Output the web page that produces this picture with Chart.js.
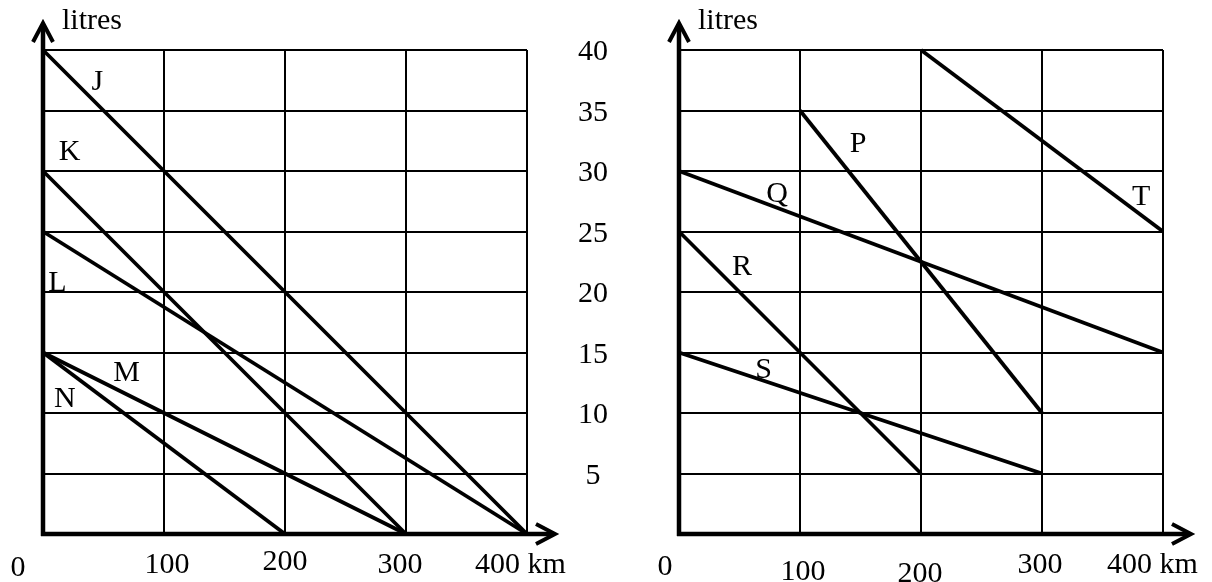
<!DOCTYPE html>
<html>
<head>
<meta charset="utf-8">
<script src="https://cdn.jsdelivr.net/npm/chart.js@4.4.1/dist/chart.umd.min.js"></script>
<style>
  html, body { margin: 0; padding: 0; background: #fff; }
  #wrap { position: relative; width: 1212px; height: 582px; overflow: hidden; }
  canvas { position: absolute; top: 0; }
  #leftChart { left: 0; }
  #rightChart { left: 620px; }
</style>
</head>
<body>
<div id="wrap">
  <canvas id="leftChart" width="620" height="582"></canvas>
  <canvas id="rightChart" width="592" height="582"></canvas>
</div>
<script>
//////////////////
// data

var kmTicks = [0, 100, 200, 300, 400];
var kmTickLabels = ["0", "100", "200", "300", "400 km"];
var litreTicks = [5, 10, 15, 20, 25, 30, 35, 40];
var axisTitle = "litres";

// left graph : each line goes from (fromKm, fromLitres) to (toKm, toLitres)
var leftNames = ["J", "K", "L", "M", "N"];
var leftFromKm = [0, 0, 0, 0, 0];
var leftFromLitres = [40, 30, 25, 15, 15];
var leftToKm = [400, 300, 400, 300, 200];
var leftToLitres = [0, 0, 0, 0, 0];

// right graph
var rightNames = ["P", "Q", "R", "S", "T"];
var rightFromKm = [100, 0, 0, 0, 200];
var rightFromLitres = [35, 30, 25, 15, 40];
var rightToKm = [300, 400, 200, 300, 400];
var rightToLitres = [10, 15, 5, 5, 25];

//////////////////
// helpers

var FONT = '30px "Liberation Serif", "Times New Roman", serif';

function buildDatasets(names, fromKm, fromL, toKm, toL) {
  return names.map(function (n, i) {
    return {
      label: n,
      data: [{ x: fromKm[i], y: fromL[i] }, { x: toKm[i], y: toL[i] }],
      borderColor: "#000",
      borderWidth: 3.8,
      pointRadius: 0,
      fill: false,
      tension: 0,
      clip: false
    };
  });
}

// letter placement (km / litres where each name sits)
var leftNameSpots = [[45, 37.5], [22, 31.7], [12, 20.9], [69, 13.5], [18, 11.3]];
var rightNameSpots = [[148, 32.4], [81, 28.3], [52, 22.2], [70, 13.7], [382, 28.0]];

// draws the heavy axes with arrows, axis texts and the line names
var sketchPlugin = {
  id: "sketch",
  afterDraw: function (chart, args, opts) {
    var ctx = chart.ctx;
    var xs = chart.scales.x, ys = chart.scales.y;
    var x0 = xs.getPixelForValue(0), y0 = ys.getPixelForValue(0);
    var topTip = ys.top - 27, rightTip = xs.right + 28;

    ctx.save();
    ctx.strokeStyle = "#000";
    ctx.lineWidth = 4.5;
    ctx.lineJoin = "miter";
    ctx.beginPath();
    ctx.moveTo(x0, y0 + 2);
    ctx.lineTo(x0, topTip + 1);
    ctx.moveTo(x0 - 2, y0);
    ctx.lineTo(rightTip - 1, y0);
    ctx.stroke();
    // arrows
    ctx.lineWidth = 4;
    ctx.beginPath();
    ctx.moveTo(x0 - 10, topTip + 19);
    ctx.lineTo(x0, topTip);
    ctx.lineTo(x0 + 10, topTip + 19);
    ctx.moveTo(rightTip - 19, y0 - 10);
    ctx.lineTo(rightTip, y0);
    ctx.lineTo(rightTip - 19, y0 + 10);
    ctx.stroke();

    ctx.fillStyle = "#000";
    ctx.font = FONT;
    ctx.textBaseline = "alphabetic";

    // litres
    ctx.textAlign = "left";
    ctx.fillText(axisTitle, x0 + 19, 29);

    // km tick labels
    kmTicks.forEach(function (v, i) {
      var off = opts.kmOffsets[i];
      var px = xs.getPixelForValue(v) + off[0];
      var py = y0 + off[1] + 10;
      ctx.textAlign = i === kmTicks.length - 1 ? "left" : "center";
      ctx.fillText(kmTickLabels[i], px, py);
    });

    // litre tick labels (between the two graphs)
    if (opts.litreLabels) {
      ctx.textAlign = "center";
      litreTicks.forEach(function (v) {
        ctx.fillText(String(v), xs.right + 66, ys.getPixelForValue(v) + 10);
      });
    }

    // line names
    ctx.textAlign = "center";
    chart.data.datasets.forEach(function (ds, i) {
      var s = opts.nameSpots[i];
      ctx.fillText(ds.label, xs.getPixelForValue(s[0]), ys.getPixelForValue(s[1]) + 10);
    });
    ctx.restore();
  }
};

function makeOptions(padding, extra) {
  return {
    responsive: false,
    animation: false,
    layout: { padding: padding },
    plugins: {
      legend: { display: false },
      tooltip: { enabled: false },
      title: { display: false },
      sketch: extra
    },
    scales: {
      x: {
        type: "linear",
        min: 0,
        max: 400,
        ticks: { stepSize: 100, display: false },
        grid: { color: "#000", lineWidth: 2, drawTicks: false },
        border: { display: false },
        afterFit: function (scale) { scale.height = 0; }
      },
      y: {
        type: "linear",
        min: 0,
        max: 40,
        ticks: { stepSize: 5, display: false },
        grid: { color: "#000", lineWidth: 2, drawTicks: false },
        border: { display: false },
        afterFit: function (scale) { scale.width = 0; }
      }
    }
  };
}

//////////////////
// left graph

var ctxLeft = document.getElementById("leftChart").getContext("2d");
var chartLeft = new Chart(ctxLeft, {
  type: "line",
  data: { datasets: buildDatasets(leftNames, leftFromKm, leftFromLitres, leftToKm, leftToLitres) },
  options: makeOptions({ left: 43, right: 93, top: 50, bottom: 48 }, {
    kmOffsets: [[-25, 32], [3, 29], [0, 26], [-6, 29], [-52, 29]],
    litreLabels: true,
    nameSpots: leftNameSpots
  }),
  plugins: [sketchPlugin]
});

//////////////////
// right graph

var ctxRight = document.getElementById("rightChart").getContext("2d");
var chartRight = new Chart(ctxRight, {
  type: "line",
  data: { datasets: buildDatasets(rightNames, rightFromKm, rightFromLitres, rightToKm, rightToLitres) },
  options: makeOptions({ left: 59, right: 49, top: 50, bottom: 48 }, {
    kmOffsets: [[-14, 31], [3, 36], [-1, 38], [-2, 29], [-56, 29]],
    litreLabels: false,
    nameSpots: rightNameSpots
  }),
  plugins: [sketchPlugin]
});
</script>
</body>
</html>
